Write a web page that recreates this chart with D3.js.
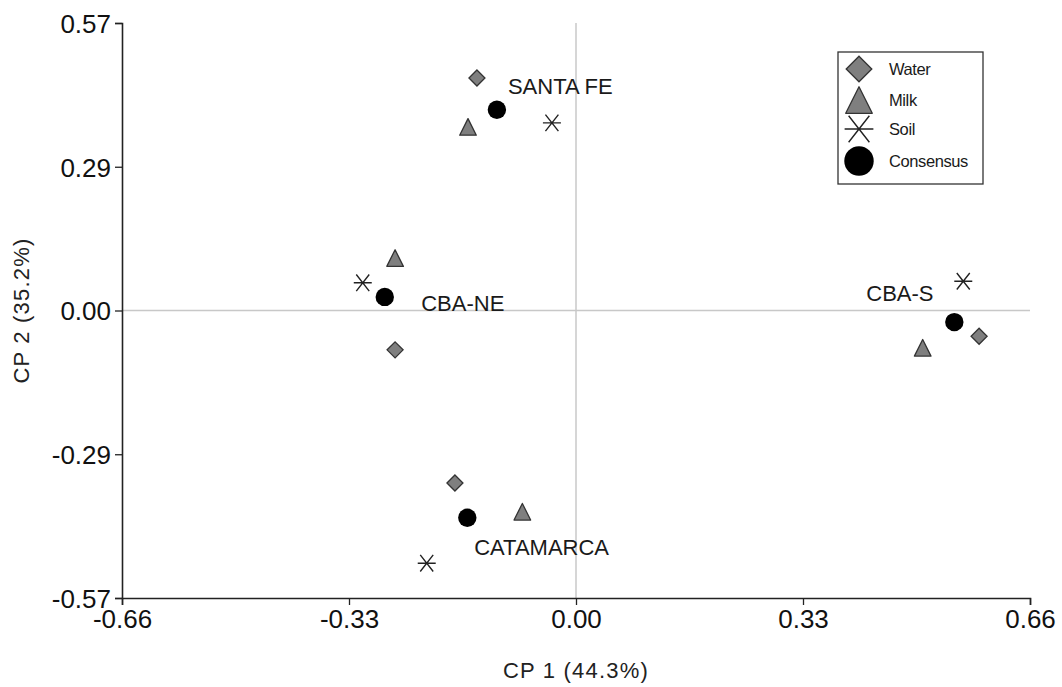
<!DOCTYPE html>
<html>
<head>
<meta charset="utf-8">
<script src="https://cdn.jsdelivr.net/npm/d3@7"></script>
<style>
  html, body { margin: 0; padding: 0; background: #fff; }
  svg { display: block; font-family: "Liberation Sans", Arial, sans-serif; }
</style>
</head>
<body>
<svg id="chart" width="1062" height="687"></svg>
<script>
// Principal component scores (CP 1, CP 2) per region and configuration
const regions = ["SANTA FE", "CBA-NE", "CBA-S", "CATAMARCA"];
const seriesNames = ["Water", "Milk", "Soil", "Consensus"];

const waterCP1 = [-0.144, -0.263, 0.586, -0.176];
const waterCP2 = [0.461, -0.078, -0.051, -0.342];

const milkCP1 = [-0.157, -0.263, 0.504, -0.078];
const milkCP2 = [0.364, 0.104, -0.074, -0.399];

const soilCP1 = [-0.035, -0.310, 0.563, -0.217];
const soilCP2 = [0.372, 0.055, 0.058, -0.501];

const consensusCP1 = [-0.115, -0.278, 0.550, -0.158];
const consensusCP2 = [0.398, 0.027, -0.023, -0.411];

// Anchor of each region's name (left edge, vertical centre)
const labelCP1 = [-0.099, -0.225, 0.422, -0.148];
const labelCP2 = [0.445, 0.015, 0.035, -0.469];

const xTickValues = [-0.66, -0.33, 0, 0.33, 0.66];
const xTickLabels = ["-0.66", "-0.33", "0.00", "0.33", "0.66"];
const yTickValues = [-0.57, -0.285, 0, 0.285, 0.57];
const yTickLabels = ["-0.57", "-0.29", "0.00", "0.29", "0.57"];

const xTitle = "CP 1 (44.3%)";
const yTitle = "CP 2 (35.2%)";

const svg = d3.select("#chart");
const plot = { left: 122, right: 1030, top: 23, bottom: 598 };

const x = d3.scaleLinear().domain([-0.66, 0.66]).range([plot.left, plot.right]);
const y = d3.scaleLinear().domain([-0.57, 0.57]).range([plot.bottom, plot.top]);

// Reference lines through the origin
svg.append("line")
  .attr("x1", x(0)).attr("x2", x(0)).attr("y1", plot.top).attr("y2", plot.bottom)
  .attr("stroke", "#c8c8c8").attr("stroke-width", 1.5);
svg.append("line")
  .attr("x1", plot.left).attr("x2", plot.right).attr("y1", y(0)).attr("y2", y(0))
  .attr("stroke", "#c8c8c8").attr("stroke-width", 1.5);

// Axes
const xAxis = d3.axisBottom(x).tickValues(xTickValues)
  .tickFormat((d, i) => xTickLabels[i]).tickSizeOuter(0).tickSize(7).tickPadding(5);
const yAxis = d3.axisLeft(y).tickValues(yTickValues)
  .tickFormat((d, i) => yTickLabels[i]).tickSizeOuter(0).tickSize(7).tickPadding(4);

const gx = svg.append("g").attr("transform", `translate(0,${plot.bottom})`).call(xAxis);
const gy = svg.append("g").attr("transform", `translate(${plot.left},0)`).call(yAxis);
[gx, gy].forEach(g => {
  g.select(".domain").attr("stroke", "#222").attr("stroke-width", 1.6);
  g.selectAll(".tick line").attr("stroke", "#222").attr("stroke-width", 1.3);
  g.selectAll(".tick text")
    .attr("fill", "#111")
    .style("font-family", '"Liberation Sans", Arial, sans-serif')
    .style("font-size", "26px");
});
gy.selectAll(".tick text").attr("dy", "0.36em");

// Axis titles
svg.append("text")
  .attr("x", x(0)).attr("y", 678)
  .attr("text-anchor", "middle")
  .attr("fill", "#222").style("font-size", "22px")
  .style("letter-spacing", "1.2px")
  .text(xTitle);
svg.append("text")
  .attr("transform", `translate(29,${y(0)}) rotate(-90)`)
  .attr("text-anchor", "middle")
  .attr("fill", "#222").style("font-size", "22px")
  .style("letter-spacing", "1.2px")
  .text(yTitle);

// Marker shapes
const markerFill = "#7f7f7f", markerStroke = "#333";
function drawMarker(g, type, cx, cy, s) {
  if (type === "Water") {
    const h = 8 * s;
    g.append("path")
      .attr("d", `M${cx},${cy - h}L${cx + h},${cy}L${cx},${cy + h}L${cx - h},${cy}Z`)
      .attr("fill", markerFill).attr("stroke", markerStroke).attr("stroke-width", 1.3);
  } else if (type === "Milk") {
    const w = 8.3 * s, ht = 8.3 * s;
    g.append("path")
      .attr("d", `M${cx},${cy - ht}L${cx + w},${cy + ht}L${cx - w},${cy + ht}Z`)
      .attr("fill", markerFill).attr("stroke", markerStroke).attr("stroke-width", 1.3)
      .attr("stroke-linejoin", "round");
  } else if (type === "Soil") {
    const w = 9 * s, h = 8.3 * s;
    g.append("path")
      .attr("d", `M${cx - w},${cy}L${cx + w},${cy}M${cx - w * 0.72},${cy - h}L${cx + w * 0.72},${cy + h}M${cx - w * 0.72},${cy + h}L${cx + w * 0.72},${cy - h}`)
      .attr("fill", "none").attr("stroke", "#222").attr("stroke-width", 1.4);
  } else {
    g.append("circle")
      .attr("cx", cx).attr("cy", cy).attr("r", 9.2 * s)
      .attr("fill", "#000");
  }
}

const series = [
  { name: "Water", cp1: waterCP1, cp2: waterCP2 },
  { name: "Milk", cp1: milkCP1, cp2: milkCP2 },
  { name: "Soil", cp1: soilCP1, cp2: soilCP2 },
  { name: "Consensus", cp1: consensusCP1, cp2: consensusCP2 }
];

const gPts = svg.append("g");
series.forEach(sr => {
  regions.forEach((r, i) => {
    drawMarker(gPts, sr.name, x(sr.cp1[i]), y(sr.cp2[i]), 1);
  });
});

// Region names
svg.append("g").selectAll("text")
  .data(regions)
  .join("text")
  .attr("x", (d, i) => x(labelCP1[i]))
  .attr("y", (d, i) => y(labelCP2[i]))
  .attr("dy", "0.36em")
  .attr("fill", "#1a1a1a")
  .style("font-size", "22px")
  .text(d => d);

// Legend
const lg = svg.append("g");
lg.append("rect")
  .attr("x", 838).attr("y", 52).attr("width", 145).attr("height", 132)
  .attr("fill", "#fff").attr("stroke", "#333").attr("stroke-width", 1.3);
const legendY = [69, 100, 129, 161];
seriesNames.forEach((n, i) => {
  drawMarker(lg, n, 859, legendY[i], 1.6);
  lg.append("text")
    .attr("x", 889).attr("y", legendY[i]).attr("dy", "0.36em")
    .attr("fill", "#1a1a1a")
    .style("font-size", "16.5px")
    .style("letter-spacing", "-0.4px")
    .text(n);
});
</script>
</body>
</html>
